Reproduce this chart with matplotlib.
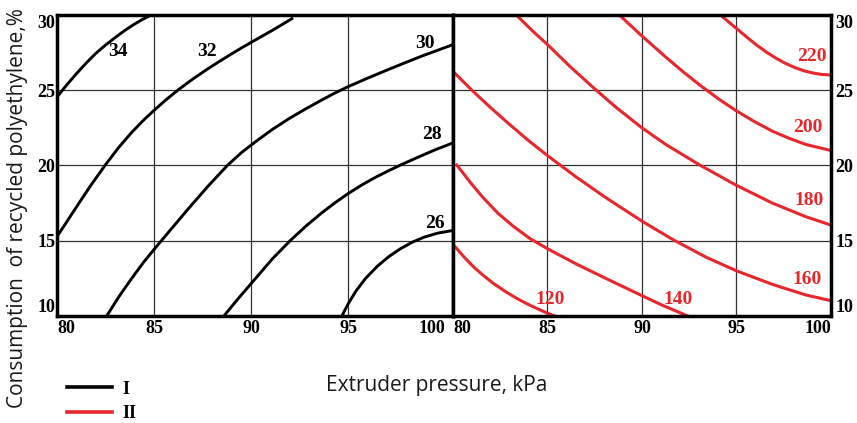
import numpy as np
import matplotlib.pyplot as plt

# curve I (black) - isolines, x = extruder pressure (kPa), y = consumption (%)
black_levels = ["34", "32", "30", "28", "26"]
black_x = [
    [80.0, 80.5, 81.0, 81.5, 82.0, 82.5, 83.0, 83.5, 84.0, 84.4, 84.85],
    [80.0, 80.93, 81.7, 82.47, 83.15, 83.85, 84.45, 85.05, 85.65, 86.25, 86.95,
     87.63, 88.3, 89.0, 89.6, 90.21, 91.1, 92.1],
    [82.56, 83.2, 83.85, 84.45, 85.05, 85.9, 86.75, 87.8, 88.8, 89.5, 90.2,
     91.1, 92.0, 92.8, 93.64, 94.3, 95.02, 96.0, 97.08, 98.0, 98.8, 99.6, 100.34],
    [88.6, 89.3, 90.1, 91.1, 92.05, 92.85, 93.64, 94.3, 95.02, 95.7, 96.39,
     97.08, 97.77, 98.6, 99.5, 100.34],
    [94.68, 95.0, 95.4, 95.9, 96.5, 97.1, 97.7, 98.3, 98.9, 99.6, 100.34],
]
black_y = [
    [24.55, 25.35, 26.1, 26.8, 27.45, 28.0, 28.5, 28.98, 29.4, 29.7, 30.0],
    [15.27, 17.1, 18.6, 20.0, 21.15, 22.2, 23.0, 23.72, 24.4, 25.03, 25.7,
     26.3, 26.86, 27.42, 27.88, 28.33, 28.98, 29.75],
    [10.0, 11.3, 12.5, 13.55, 14.5, 15.8, 17.1, 18.65, 20.03, 20.85, 21.55,
     22.4, 23.15, 23.75, 24.35, 24.8, 25.25, 25.8, 26.38, 26.86, 27.27, 27.65, 28.0],
    [10.0, 11.1, 12.3, 13.8, 15.05, 16.0, 16.85, 17.5, 18.15, 18.7, 19.2,
     19.65, 20.07, 20.55, 21.05, 21.47],
    [10.0, 10.8, 11.65, 12.5, 13.3, 13.95, 14.47, 14.9, 15.23, 15.5, 15.67],
]
black_lab_x = [83.16, 87.72, 98.97, 99.31, 99.48]
black_lab_y = [27.56, 27.56, 28.12, 22.03, 16.16]

# curve II (red)
red_levels = ["120", "140", "160", "180", "200", "220"]
red_x = [
    [80.11, 80.6, 81.07, 81.6, 82.13, 82.75, 83.36, 83.9, 84.42, 84.9, 85.38],
    [80.2, 80.9, 81.6, 82.4, 83.2, 84.1, 85.07, 86.53, 88.28, 90.0, 91.1, 92.42],
    [80.02, 81.0, 82.0, 83.0, 84.0, 85.07, 86.5, 88.1, 90.0, 91.6, 93.4,
     95.0, 96.9, 98.66, 99.98],
    [83.35, 84.2, 85.07, 86.17, 87.4, 88.64, 90.0, 91.28, 93.03, 94.97, 96.9,
     98.66, 99.98],
    [88.8, 90.0, 91.28, 92.2, 93.21, 94.1, 94.97, 95.9, 96.9, 97.8, 98.66, 99.98],
    [94.15, 94.6, 95.1, 95.6, 96.1, 96.6, 97.1, 97.6, 98.1, 98.6, 99.1, 99.5, 99.98],
]
red_y = [
    [14.6, 13.9, 13.28, 12.7, 12.17, 11.64, 11.18, 10.82, 10.51, 10.24, 10.0],
    [20.03, 18.9, 17.85, 16.8, 15.95, 15.12, 14.42, 13.45, 12.38, 11.35, 10.7, 10.0],
    [26.23, 25.0, 23.83, 22.72, 21.65, 20.59, 19.25, 17.85, 16.3, 15.1, 13.9,
     13.0, 12.1, 11.4, 11.02],
    [30.0, 28.95, 27.95, 26.6, 25.2, 23.85, 22.5, 21.38, 20.05, 18.7, 17.5,
     16.6, 16.05],
    [30.0, 28.6, 27.18, 26.2, 25.2, 24.38, 23.65, 22.95, 22.28, 21.8, 21.4, 21.0],
    [30.0, 29.52, 29.0, 28.47, 27.97, 27.52, 27.12, 26.78, 26.5, 26.28, 26.13,
     26.05, 26.01],
]
red_lab_x = [85.12, 91.89, 98.75, 98.84, 98.75, 99.01]
red_lab_y = [11.11, 11.11, 12.44, 17.64, 22.54, 27.23]

xticks = [80, 85, 90, 95, 100]
yticks = [10, 15, 20, 25, 30]

RED = "#e8262b"
sans = "Open Sans"
plt.rcParams["font.family"] = "Liberation Serif"
plt.rcParams["font.weight"] = "bold"

fig = plt.figure(figsize=(8.57, 4.23), dpi=100)
bottom, height = 0.253, 0.7116
ax1 = fig.add_axes([0.0665, bottom, 0.462, height])
ax2 = fig.add_axes([0.5286, bottom, 0.441, height])

for ax, xmax in ((ax1, 100.4), (ax2, 100.0)):
    ax.set_xlim(80, xmax)
    ax.set_ylim(10, 30)
    ax.set_xticks(xticks)
    ax.set_yticks(yticks)
    ax.grid(True, color="#333333", linewidth=0.9)
    ax.set_axisbelow(True)
    for s in ax.spines.values():
        s.set_linewidth(2.5)
    ax.tick_params(length=0, labelsize=13, pad=3)

# no grid line on the 100 tick of the left panel (it sits on the border)
ax1.get_xgridlines()[-1].set_visible(False)
ax2.yaxis.tick_right()
ax1.tick_params(axis="y", pad=1)
ax2.tick_params(axis="y", pad=3)
for ax in (ax1, ax2):
    xl = ax.get_xticklabels()
    xl[0].set_ha("left")
    xl[-1].set_ha("right")
ax1.get_yticklabels()[0].set_va("bottom")
ax1.get_yticklabels()[-1].set_va("top")
ax2.get_yticklabels()[0].set_va("bottom")
ax2.get_yticklabels()[-1].set_va("top")

for xs, ys, lev, lx, ly in zip(black_x, black_y, black_levels, black_lab_x, black_lab_y):
    h1, = ax1.plot(xs, ys, color="black", linewidth=2.1, solid_joinstyle="round")
    ax1.text(lx, ly, lev, fontsize=14, ha="center", va="center")

for xs, ys, lev, lx, ly in zip(red_x, red_y, red_levels, red_lab_x, red_lab_y):
    h2, = ax2.plot(xs, ys, color=RED, linewidth=2.2, solid_joinstyle="round")
    ax2.text(lx, ly, lev, fontsize=14, color=RED, ha="center", va="center")

fig.text(0.02, 0.507, "Consumption  of recycled polyethylene,%", rotation=90,
         family=sans, weight="normal", fontsize=15, color="#1a1a1a",
         ha="center", va="center")
fig.text(0.51, 0.088, "Extruder pressure, kPa", family=sans, weight="normal",
         fontsize=15, color="#1a1a1a", ha="center", va="center")

leg = fig.legend([h1, h2], ["I", "II"], loc="upper left", bbox_to_anchor=(0.078, 0.1),
                 frameon=False, handlelength=2.5, handletextpad=0.55, labelspacing=0.4,
                 prop={"weight": "bold", "size": 13},
                 borderaxespad=0, borderpad=0)
for ln in leg.get_lines():
    ln.set_linewidth(2.6)

fig.savefig("out.png", dpi=100)
